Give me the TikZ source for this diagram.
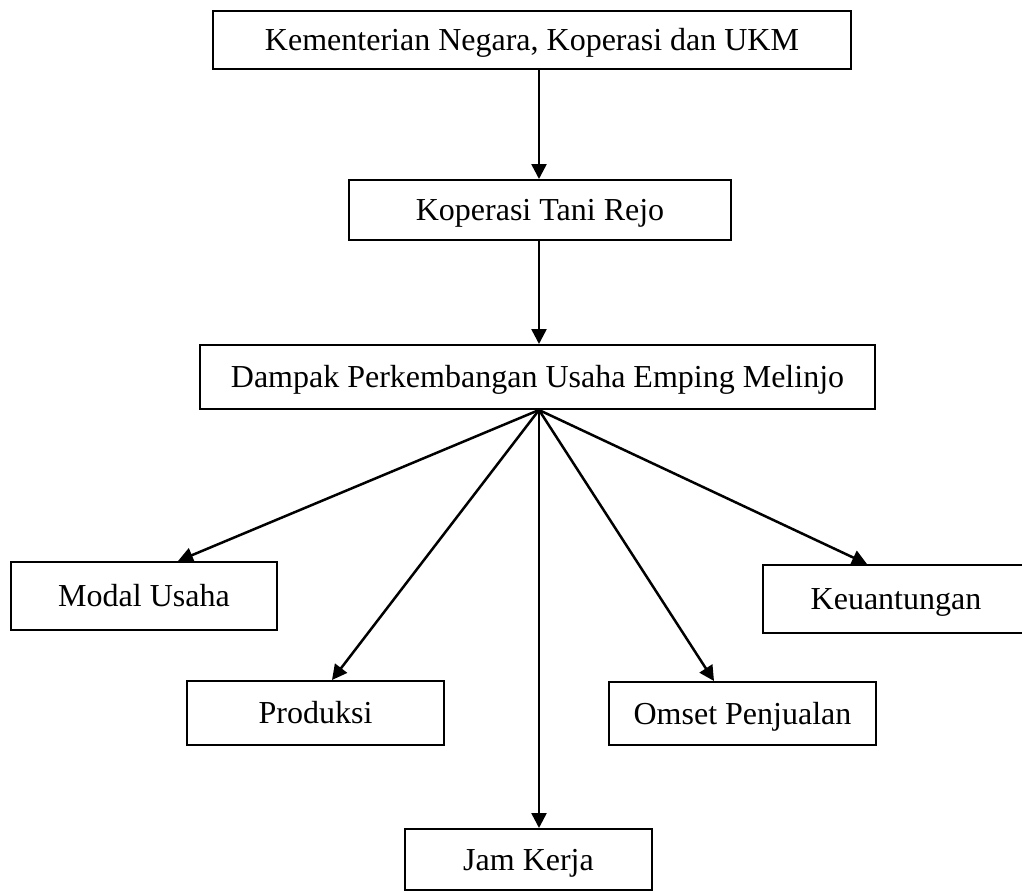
\documentclass[tikz,border=0pt]{standalone}
\usepackage{fontspec}
\setmainfont{Liberation Serif}
\usetikzlibrary{arrows.meta}
\begin{document}
\begin{tikzpicture}[x=1pt,y=-1pt,
  box/.style={draw,line width=2pt,inner sep=0pt,text height=21pt,text depth=0pt,
    font=\fontsize{32}{38}\selectfont},
  conn/.style={line width=2.5pt,-{Triangle[length=15pt,width=15pt]}}]
\useasboundingbox (0,0) rectangle (1022,892);
\node[box,minimum width=638pt,minimum height=58pt] (b1) at (532,40) {Kementerian Negara, Koperasi dan UKM};
\node[box,minimum width=382pt,minimum height=60pt] (b2) at (540,210) {Koperasi Tani Rejo};
\node[box,minimum width=675pt,minimum height=64pt] (b3) at (537.5,377) {Dampak Perkembangan Usaha Emping Melinjo};
\node[box,minimum width=266pt,minimum height=68pt] (modal) at (144,596) {Modal Usaha};
\node[box,minimum width=266pt,minimum height=68pt] (keu) at (896,599) {Keuantungan};
\node[box,minimum width=257pt,minimum height=64pt] (prod) at (315.5,713) {Produksi};
\node[box,minimum width=267pt,minimum height=63pt] (omset) at (742.5,713.5) {Omset Penjualan};
\node[box,minimum width=247pt,minimum height=61pt] (jam) at (528.5,859.5) {Jam Kerja};
\coordinate (axis) at (539,0);
\coordinate (fan) at (b3.south -| axis);
\coordinate (xm) at (178,0);
\coordinate (xk) at (867,0);
\coordinate (xp) at (332,0);
\coordinate (xo) at (714,0);
\draw[conn] (b1.south -| axis) -- (b2.north -| axis);
\draw[conn] (b2.south -| axis) -- (b3.north -| axis);
\draw[conn] (fan) -- (modal.north -| xm);
\draw[conn] (fan) -- (keu.north -| xk);
\draw[conn] (fan) -- (prod.north -| xp);
\draw[conn] (fan) -- (omset.north -| xo);
\draw[conn] (fan) -- (jam.north -| axis);
\end{tikzpicture}
\end{document}
